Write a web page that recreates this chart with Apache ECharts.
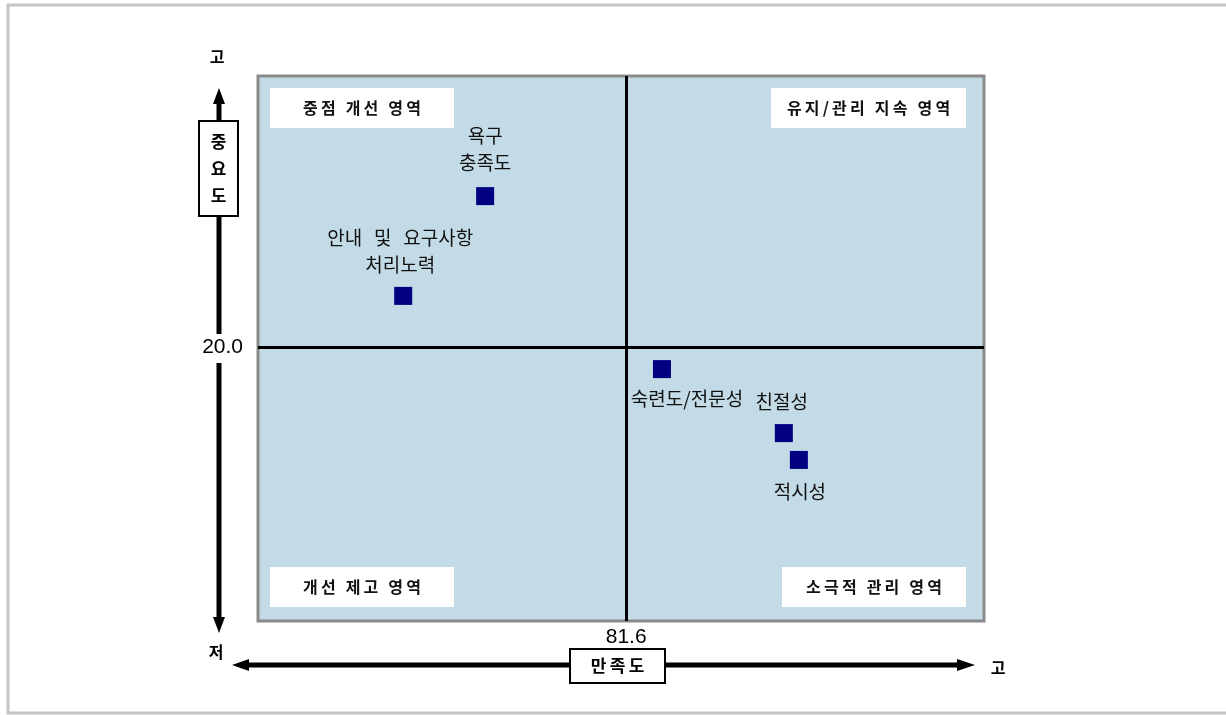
<!DOCTYPE html>
<html>
<head>
    <meta charset="utf-8">
    <title>만족도-중요도 매트릭스</title>
    <script src="https://cdn.jsdelivr.net/npm/echarts@6/dist/echarts.min.js"></script>
    <style>
        html, body { margin: 0; padding: 0; background: #fff; }
    </style>
</head>
<body>
    <div id="chart" style="width: 1226px; height: 715px;"></div>

    <script>
    // data
    const items = ['욕구\n충족도', '안내 및 요구사항\n처리노력', '숙련도/전문성', '친절성', '적시성'];
    const satisfaction = [78.88, 77.30, 82.29, 84.64, 84.93];
    const importance = [25.57, 21.89, 19.19, 16.83, 15.84];
    const crossX = 81.6;   // 만족도 평균
    const crossY = 20.0;   // 중요도 평균
    const quadrantNames = ['중점 개선 영역', '유지/관리 지속 영역', '개선 제고 영역', '소극적 관리 영역'];

    const chart = echarts.init(document.getElementById('chart'));
    const font = '"Noto Sans CJK KR", "Noto Sans", sans-serif';

    // the original font is set loose; fake it with thin spaces
    const loose = s => s.split('').join('\u2009');
    const wideSpaces = s => s.replace(/ /g, ' \u2009\u2009');

    // label placement per point (top / bottom, small x nudge)
    const labelPlace = [
        { position: 'top', distance: 11, offset: [0, 0] },
        { position: 'top', distance: 9, offset: [-3, 0] },
        { position: 'bottom', distance: 7, offset: [25, 0] },
        { position: 'top', distance: 9, offset: [-2, 0] },
        { position: 'bottom', distance: 9, offset: [1, 0] }
    ];

    const points = items.map((name, i) => ({
        name: name,
        value: [satisfaction[i], importance[i]],
        label: labelPlace[i]
    }));

    // quadrant caption boxes
    const boxes = [
        { x: 270, y: 88, w: 184, h: 40 },
        { x: 771, y: 88, w: 195, h: 40 },
        { x: 270, y: 567, w: 184, h: 40 },
        { x: 782, y: 567, w: 184, h: 40 }
    ];
    const boxGraphics = boxes.map((b, i) => ({
        type: 'group',
        z: 20,
        children: [
            { type: 'rect', shape: { x: b.x, y: b.y, width: b.w, height: b.h }, style: { fill: '#fff' } },
            {
                type: 'text', x: b.x + b.w / 2, y: b.y + b.h / 2,
                style: {
                    text: loose(quadrantNames[i]), fill: '#111', font: 'bold 16px ' + font,
                    textAlign: 'center', textVerticalAlign: 'middle'
                }
            }
        ]
    }));

    const arrowStyle = { stroke: '#000', lineWidth: 5 };
    const markText = (x, y, t) => ({
        type: 'text', x: x, y: y,
        style: { text: t, font: 'bold 16px ' + font, fill: '#000', textAlign: 'center', textVerticalAlign: 'middle' }
    });

    const option = {
        backgroundColor: '#fff',
        animation: false,
        grid: {
            left: 258, top: 76, right: 242, bottom: 94,
            show: true,
            backgroundColor: '#c3dbe6',
            borderColor: '#8a8a8a',
            borderWidth: 3
        },
        xAxis: {
            type: 'value',
            min: 74.5,
            max: 88.5,
            axisLine: { show: false },
            axisTick: { show: false },
            splitLine: { show: false },
            axisLabel: {
                customValues: [crossX],
                formatter: v => v.toFixed(1),
                fontSize: 21,
                fontFamily: 'Liberation Sans, Arial, sans-serif',
                color: '#000',
                margin: 6
            }
        },
        yAxis: {
            type: 'value',
            min: 9.9,
            max: 30,
            axisLine: { show: false },
            axisTick: { show: false },
            splitLine: { show: false },
            axisLabel: {
                customValues: [crossY],
                formatter: v => v.toFixed(1),
                fontSize: 21,
                fontFamily: 'Liberation Sans, Arial, sans-serif',
                color: '#000',
                margin: 15
            }
        },
        series: [{
            type: 'scatter',
            symbol: 'rect',
            symbolSize: 18,
            itemStyle: { color: '#000080', opacity: 1 },
            label: {
                show: true,
                formatter: p => wideSpaces(p.name),
                fontSize: 19,
                lineHeight: 27,
                fontFamily: font,
                color: '#111'
            },
            data: points,
            markLine: {
                silent: true,
                symbol: 'none',
                label: { show: false },
                lineStyle: { color: '#000', width: 3, type: 'solid' },
                data: [{ xAxis: crossX }, { yAxis: crossY }]
            }
        }],
        graphic: [
            // outer frame
            {
                type: 'rect', z: -1,
                shape: { x: 8, y: 5, width: 1240, height: 708 },
                style: { fill: 'none', stroke: '#c4c4c4', lineWidth: 3 }
            },
            // vertical axis arrow (gap behind the 20.0 label)
            { type: 'line', shape: { x1: 219, y1: 100, x2: 219, y2: 334 }, style: arrowStyle },
            { type: 'line', shape: { x1: 219, y1: 363, x2: 219, y2: 620 }, style: arrowStyle },
            { type: 'polygon', shape: { points: [[219, 88], [213, 104], [225, 104]] }, style: { fill: '#000' } },
            { type: 'polygon', shape: { points: [[219, 633], [213, 617], [225, 617]] }, style: { fill: '#000' } },
            // horizontal axis arrow
            { type: 'line', shape: { x1: 246, y1: 665, x2: 960, y2: 665 }, style: arrowStyle },
            { type: 'polygon', shape: { points: [[232, 665], [249, 659], [249, 671]] }, style: { fill: '#000' } },
            { type: 'polygon', shape: { points: [[975, 665], [957, 659], [957, 671]] }, style: { fill: '#000' } },
            // 중요도 box
            {
                type: 'group', z: 10,
                children: [
                    { type: 'rect', shape: { x: 199, y: 121, width: 39, height: 95 }, style: { fill: '#fff', stroke: '#000', lineWidth: 2 } },
                    {
                        type: 'text', x: 218.5, y: 169,
                        style: {
                            text: '중\n요\n도', font: 'bold 17px ' + font, lineHeight: 27,
                            fill: '#000', textAlign: 'center', textVerticalAlign: 'middle'
                        }
                    }
                ]
            },
            // 만족도 box
            {
                type: 'group', z: 10,
                children: [
                    { type: 'rect', shape: { x: 570, y: 649, width: 95, height: 34 }, style: { fill: '#fff', stroke: '#000', lineWidth: 2 } },
                    {
                        type: 'text', x: 617.5, y: 666,
                        style: { text: loose('만족도'), font: 'bold 17px ' + font, fill: '#000', textAlign: 'center', textVerticalAlign: 'middle' }
                    }
                ]
            },
            // 고 / 저 end markers
            markText(217, 57, '고'),
            markText(216, 652, '저'),
            markText(998, 668, '고')
        ].concat(boxGraphics)
    };

    chart.setOption(option);
    </script>
</body>
</html>
